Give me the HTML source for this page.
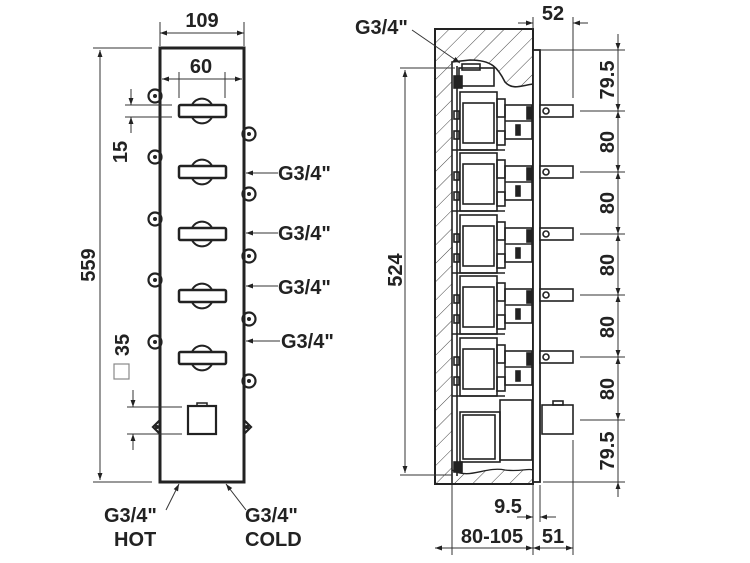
<!DOCTYPE html>
<html><head><meta charset="utf-8"><style>
html,body{margin:0;padding:0;background:#fff;}
svg{display:block;}
text{font-family:"Liberation Sans",Arial,sans-serif;font-weight:bold;fill:#222;}
</style></head><body>
<svg width="750" height="563" viewBox="0 0 750 563" xmlns="http://www.w3.org/2000/svg">
<defs>
<marker id="a" viewBox="0 0 10 10" refX="10" refY="5" markerWidth="10" markerHeight="7" orient="auto-start-reverse" markerUnits="userSpaceOnUse"><path d="M0,1.5 L10,5 L0,8.5 z" fill="#222"/></marker>
<pattern id="h" width="13" height="13" patternUnits="userSpaceOnUse" patternTransform="rotate(45)"><line x1="0" y1="0" x2="0" y2="13" stroke="#444" stroke-width="1"/></pattern>
<g id="knob">
<path d="M192,0 A11,11 0 0 1 212,0" fill="#fff" stroke="#222" stroke-width="2"/>
<path d="M192,12 A11,11 0 0 0 212,12" fill="#fff" stroke="#222" stroke-width="2"/>
<rect x="179" y="0" width="47" height="12" rx="1.5" fill="#fff" stroke="#222" stroke-width="2.5"/>
</g>
<g id="lc"><circle cx="155" cy="0" r="6.5" fill="#fff" stroke="#222" stroke-width="2.2"/><circle cx="155" cy="0" r="2" fill="#222"/></g>
<g id="rc"><circle cx="249" cy="0" r="6.5" fill="#fff" stroke="#222" stroke-width="2.2"/><circle cx="249" cy="0" r="2" fill="#222"/></g>
<g id="mod" fill="none" stroke="#222" stroke-width="1.6">
<rect x="460" y="-19" width="37" height="58"/>
<rect x="463" y="-8" width="31" height="40"/>
<rect x="497" y="-12" width="8" height="18"/>
<rect x="497" y="20" width="8" height="14"/>
<rect x="505" y="-6" width="27" height="34"/>
<line x1="505" y1="10" x2="532" y2="10"/>
<rect x="527" y="-4" width="4" height="12" fill="#222"/>
<rect x="516" y="14" width="4" height="10" fill="#222"/>
<rect x="454" y="0" width="5" height="8"/>
<rect x="454" y="20" width="5" height="8"/>
<line x1="452" y1="39" x2="505" y2="39"/>
<rect x="540" y="-6" width="33" height="12" fill="#fff"/>
<circle cx="546" cy="0" r="3"/>
</g>
</defs>

<!-- LEFT VIEW -->
<use href="#lc" y="96"/><use href="#lc" y="157"/><use href="#lc" y="219"/><use href="#lc" y="280"/><use href="#lc" y="342"/>
<use href="#rc" y="134"/><use href="#rc" y="194"/><use href="#rc" y="256"/><use href="#rc" y="319"/><use href="#rc" y="381"/>
<path d="M160,420 L153,427 L160,434" fill="#fff" stroke="#222" stroke-width="2.2"/><circle cx="157" cy="427" r="2" fill="#222"/>
<path d="M244,420 L251,427 L244,434" fill="#fff" stroke="#222" stroke-width="2.2"/><circle cx="247" cy="427" r="2" fill="#222"/>
<rect x="160" y="48" width="84" height="434" fill="none" stroke="#222" stroke-width="3"/>
<use href="#knob" y="105"/><use href="#knob" y="166"/><use href="#knob" y="228"/><use href="#knob" y="290"/><use href="#knob" y="352"/>
<rect x="188" y="406" width="28" height="28" fill="#fff" stroke="#222" stroke-width="2.2"/>
<rect x="197" y="403" width="10" height="3" fill="none" stroke="#222" stroke-width="1.5"/>

<g stroke="#333" stroke-width="1" fill="none">
<line x1="160" y1="22" x2="160" y2="46"/><line x1="244" y1="22" x2="244" y2="46"/>
<line x1="160" y1="33" x2="244" y2="33" marker-start="url(#a)" marker-end="url(#a)"/>
<line x1="179" y1="72" x2="179" y2="98"/><line x1="225" y1="72" x2="225" y2="98"/>
<line x1="162" y1="79" x2="242" y2="79" marker-start="url(#a)" marker-end="url(#a)"/>
<line x1="93" y1="48" x2="152" y2="48"/><line x1="93" y1="482" x2="152" y2="482"/>
<line x1="100" y1="50" x2="100" y2="480" marker-start="url(#a)" marker-end="url(#a)"/>
<line x1="125" y1="105" x2="172" y2="105"/><line x1="125" y1="117" x2="172" y2="117"/>
<line x1="131" y1="89" x2="131" y2="105" marker-end="url(#a)"/><line x1="131" y1="133" x2="131" y2="117" marker-end="url(#a)"/>
<line x1="127" y1="407" x2="182" y2="407"/><line x1="127" y1="434" x2="182" y2="434"/>
<line x1="133" y1="390" x2="133" y2="407" marker-end="url(#a)"/><line x1="133" y1="450" x2="133" y2="434" marker-end="url(#a)"/>
<line x1="278" y1="173" x2="246" y2="173" marker-end="url(#a)"/>
<line x1="278" y1="233" x2="246" y2="233" marker-end="url(#a)"/>
<line x1="278" y1="286" x2="246" y2="286" marker-end="url(#a)"/>
<line x1="280" y1="341" x2="246" y2="341" marker-end="url(#a)"/>
<line x1="166" y1="510" x2="179" y2="484" marker-end="url(#a)"/>
<line x1="246" y1="510" x2="226" y2="484" marker-end="url(#a)"/>
</g>
<rect x="114" y="364" width="15" height="15" fill="none" stroke="#888" stroke-width="1.2"/>
<g font-size="20">
<text x="202" y="27" text-anchor="middle">109</text>
<text x="201" y="73" text-anchor="middle">60</text>
<text transform="translate(95,265) rotate(-90)" text-anchor="middle">559</text>
<text transform="translate(127,152) rotate(-90)" text-anchor="middle">15</text>
<text transform="translate(129,345) rotate(-90)" text-anchor="middle">35</text>
<text x="278" y="180">G3/4"</text>
<text x="278" y="240">G3/4"</text>
<text x="278" y="294">G3/4"</text>
<text x="281" y="348">G3/4"</text>
<text x="104" y="522">G3/4"</text>
<text x="114" y="546">HOT</text>
<text x="245" y="522">G3/4"</text>
<text x="245" y="546">COLD</text>
</g>

<!-- RIGHT VIEW -->
<path d="M435,29 H533 V84 C520,86 512,90 505,82 C498,68 492,60 470,60 L452,62 V470 C470,480 485,466 505,470 C520,472 528,468 533,470 V484 H435 Z" fill="url(#h)"/>
<rect x="435" y="29" width="98" height="455" fill="none" stroke="#222" stroke-width="2"/>
<path d="M452,484 V62 L470,60 C492,60 498,68 505,82 C512,90 520,86 533,84" fill="none" stroke="#222" stroke-width="1.6"/>
<path d="M452,470 C470,480 485,466 505,470 C520,472 528,468 533,470" fill="none" stroke="#222" stroke-width="1.3"/>
<rect x="533" y="50" width="7" height="432" fill="#fff" stroke="#222" stroke-width="1.8"/>
<g fill="none" stroke="#222" stroke-width="1.6">
<line x1="457" y1="66" x2="457" y2="476"/>
<rect x="459" y="68" width="35" height="18"/><rect x="462" y="64" width="18" height="6"/>
<rect x="454" y="76" width="8" height="12" fill="#222"/>
<rect x="460" y="412" width="40" height="50"/><rect x="463" y="415" width="32" height="44"/>
<rect x="500" y="400" width="32" height="60"/>
<rect x="542" y="405" width="31" height="29" fill="#fff"/>
<rect x="553" y="401" width="10" height="4"/>
<rect x="454" y="462" width="8" height="10" fill="#222"/>
</g>
<use href="#mod" y="111"/><use href="#mod" y="172"/><use href="#mod" y="234"/><use href="#mod" y="295"/><use href="#mod" y="357"/>

<g stroke="#333" stroke-width="1" fill="none">
<line x1="533" y1="17" x2="533" y2="29"/><line x1="573" y1="17" x2="573" y2="98"/>
<line x1="518" y1="23" x2="533" y2="23" marker-end="url(#a)"/><line x1="588" y1="23" x2="573" y2="23" marker-end="url(#a)"/>
<line x1="540" y1="50" x2="625" y2="50"/>
<line x1="580" y1="111" x2="625" y2="111"/><line x1="580" y1="172" x2="625" y2="172"/>
<line x1="580" y1="234" x2="625" y2="234"/><line x1="580" y1="295" x2="625" y2="295"/>
<line x1="580" y1="357" x2="625" y2="357"/><line x1="580" y1="420" x2="625" y2="420"/>
<line x1="543" y1="482" x2="625" y2="482"/>
<line x1="618" y1="34" x2="618" y2="50" marker-end="url(#a)"/>
<line x1="618" y1="50" x2="618" y2="111" marker-end="url(#a)"/>
<line x1="618" y1="111" x2="618" y2="172" marker-start="url(#a)" marker-end="url(#a)"/>
<line x1="618" y1="172" x2="618" y2="234" marker-start="url(#a)" marker-end="url(#a)"/>
<line x1="618" y1="234" x2="618" y2="295" marker-start="url(#a)" marker-end="url(#a)"/>
<line x1="618" y1="295" x2="618" y2="357" marker-start="url(#a)" marker-end="url(#a)"/>
<line x1="618" y1="357" x2="618" y2="420" marker-start="url(#a)" marker-end="url(#a)"/>
<line x1="618" y1="420" x2="618" y2="482"/>
<line x1="618" y1="497" x2="618" y2="482" marker-end="url(#a)"/>
<line x1="400" y1="68" x2="455" y2="68"/><line x1="400" y1="475" x2="452" y2="475"/>
<line x1="405" y1="70" x2="405" y2="473" marker-start="url(#a)" marker-end="url(#a)"/>
<line x1="412" y1="30" x2="460" y2="63" marker-end="url(#a)"/>
<line x1="452" y1="485" x2="452" y2="555"/><line x1="533" y1="485" x2="533" y2="555"/>
<line x1="540" y1="485" x2="540" y2="522"/><line x1="573" y1="440" x2="573" y2="555"/>
<line x1="517" y1="517" x2="533" y2="517" marker-end="url(#a)"/><line x1="556" y1="517" x2="540" y2="517" marker-end="url(#a)"/>
<line x1="435" y1="548" x2="452" y2="548" marker-start="url(#a)"/><line x1="452" y1="548" x2="533" y2="548"/>
<line x1="518" y1="548" x2="533" y2="548" marker-end="url(#a)"/>
<line x1="533" y1="548" x2="573" y2="548" marker-start="url(#a)" marker-end="url(#a)"/>
</g>
<g font-size="20">
<text x="553" y="20" text-anchor="middle">52</text>
<text x="355" y="34">G3/4"</text>
<text transform="translate(402,270) rotate(-90)" text-anchor="middle">524</text>
<text transform="translate(614,80) rotate(-90)" text-anchor="middle">79.5</text>
<text transform="translate(614,142) rotate(-90)" text-anchor="middle">80</text>
<text transform="translate(614,203) rotate(-90)" text-anchor="middle">80</text>
<text transform="translate(614,265) rotate(-90)" text-anchor="middle">80</text>
<text transform="translate(614,327) rotate(-90)" text-anchor="middle">80</text>
<text transform="translate(614,389) rotate(-90)" text-anchor="middle">80</text>
<text transform="translate(614,451) rotate(-90)" text-anchor="middle">79.5</text>
<text x="508" y="513" text-anchor="middle">9.5</text>
<text x="492" y="543" text-anchor="middle">80-105</text>
<text x="553" y="543" text-anchor="middle">51</text>
</g>
</svg>
</body></html>
